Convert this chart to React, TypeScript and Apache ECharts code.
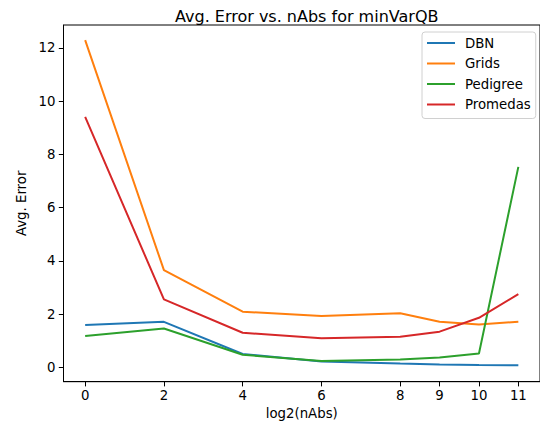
import React, { useEffect, useRef } from "react";
import * as echarts from "echarts";

const xValues = [0, 2, 4, 6, 8, 9, 10, 11];
const xTicks = [0, 2, 4, 6, 8, 9, 10, 11];
const yTicks = [0, 2, 4, 6, 8, 10, 12];
const seriesNames = ["DBN", "Grids", "Pedigree", "Promedas"];
const dbn = [1.59, 1.71, 0.5, 0.22, 0.14, 0.11, 0.09, 0.08];
const grids = [12.29, 3.65, 2.09, 1.93, 2.03, 1.71, 1.61, 1.71];
const pedigree = [1.18, 1.46, 0.47, 0.24, 0.29, 0.37, 0.52, 7.53];
const promedas = [9.41, 2.55, 1.3, 1.09, 1.15, 1.34, 1.86, 2.75];
const colors = ["#1f77b4", "#ff7f0e", "#2ca02c", "#d62728"];

const FONT = "DejaVu Sans";

export default function App() {
  const ref = useRef<HTMLDivElement>(null);
  useEffect(() => {
    if (!ref.current) return;
    const chart = echarts.init(ref.current, undefined, { renderer: "svg" });
    const data = [dbn, grids, pedigree, promedas];
    chart.setOption({
      animation: false,
      backgroundColor: "#ffffff",
      title: {
        text: "Avg. Error vs. nAbs for minVarQB",
        left: 170,
        top: 3,
        textStyle: { fontFamily: FONT, fontSize: 16, fontWeight: "normal", color: "#000" },
      },
      legend: {
        orient: "vertical",
        left: 422,
        top: 32,
        data: seriesNames,
        icon: "rect",
        itemWidth: 28,
        itemHeight: 2,
        itemGap: 4.5,
        padding: [3, 5, 6, 5],
        backgroundColor: "#fff",
        borderColor: "#d0d0d0",
        borderWidth: 1,
        borderRadius: 3,
        textStyle: { fontFamily: FONT, fontSize: 13.3, color: "#000", lineHeight: 16, padding: [0, 0, 0, 5] },
      },
      grid: {
        left: 63.5,
        top: 25,
        width: 479.6,
        height: 356.7,
        show: true,
        borderColor: "#000",
        borderWidth: 1,
        backgroundColor: "transparent",
      },
      xAxis: {
        type: "value",
        min: -0.55,
        max: 11.55,
        name: "log2(nAbs)",
        nameLocation: "middle",
        nameGap: 16,
        nameTextStyle: { fontFamily: FONT, fontSize: 13.3, color: "#000" },
        axisLine: { show: true, onZero: false, lineStyle: { color: "#000", width: 1 } },
        axisTick: { show: true, length: 4.7, lineStyle: { color: "#000" }, customValues: xTicks },
        axisLabel: { fontFamily: FONT, fontSize: 13.3, color: "#000", margin: 7, customValues: xTicks },
        splitLine: { show: false },
      },
      yAxis: {
        type: "value",
        min: -0.54,
        max: 12.86,
        name: "Avg. Error",
        nameLocation: "middle",
        nameGap: 31,
        nameTextStyle: { fontFamily: FONT, fontSize: 13.3, color: "#000" },
        axisLine: { show: true, onZero: false, lineStyle: { color: "#000", width: 1 } },
        axisTick: { show: true, length: 4.7, lineStyle: { color: "#000" }, customValues: yTicks },
        axisLabel: { fontFamily: FONT, fontSize: 13.3, color: "#000", margin: 8, customValues: yTicks },
        splitLine: { show: false },
      },
      series: seriesNames.map((name, i) => ({
        name,
        type: "line",
        data: xValues.map((x, j) => [x, data[i][j]]),
        symbol: "none",
        showSymbol: false,
        lineStyle: { color: colors[i], width: 2 },
        itemStyle: { color: colors[i] },
      })),
    });
    return () => chart.dispose();
  }, []);
  return <div ref={ref} style={{ position: "fixed", left: 0, top: 0, width: 540, height: 430 }} />;
}
